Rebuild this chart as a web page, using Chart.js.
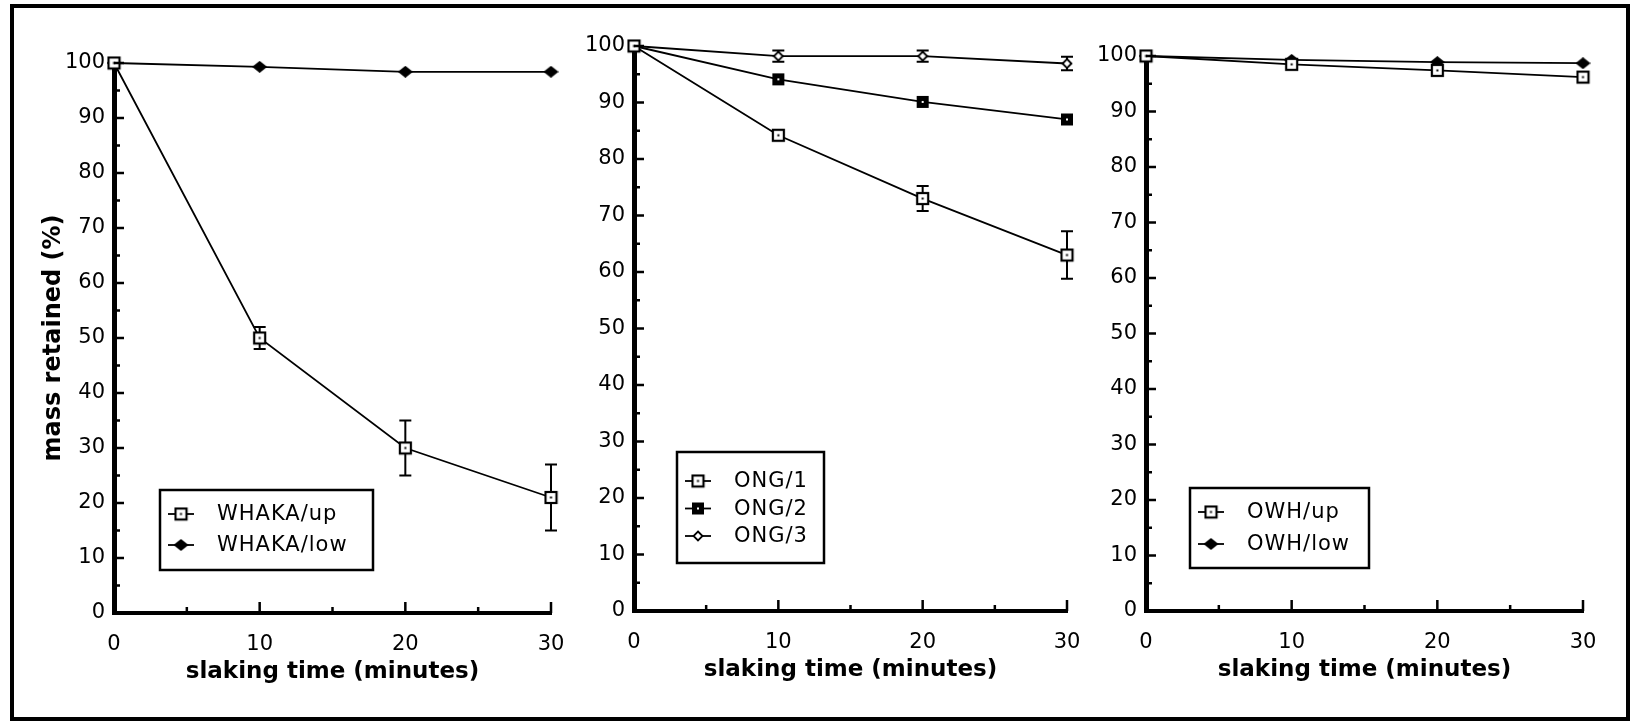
<!DOCTYPE html>
<html lang="en">
  <head>
    <meta charset="UTF-8" />
    <script src="https://cdn.jsdelivr.net/npm/chart.js"></script>
    <title>Slaking test - mass retained</title>
    <style>
      html,
      body {
        margin: 0;
        padding: 0;
        background: #fff;
      }
      #page {
        position: relative;
        width: 1632px;
        height: 725px;
        overflow: hidden;
        background: #fff;
      }
      #page canvas {
        position: absolute;
        left: 0;
        top: 0;
      }
      #frame {
        position: absolute;
        left: 10px;
        top: 4px;
        width: 1612px;
        height: 709px;
        border: 4px solid #000;
      }
    </style>
  </head>
  <body>
    <div id="page">
      <div id="frame"></div>
      <canvas id="whakaChart" width="1632" height="725"></canvas>
      <canvas id="ongChart" width="1632" height="725"></canvas>
      <canvas id="owhChart" width="1632" height="725"></canvas>
    </div>

    <script>
      // slaking time (minutes)
      const minutes = [0, 10, 20, 30];
      const xTicks = [0, 10, 20, 30];
      const yTicks = [0, 10, 20, 30, 40, 50, 60, 70, 80, 90, 100];
      const xTickMarks = [0, 5, 10, 15, 20, 25, 30];
      const yTickMarks = [0, 5, 10, 15, 20, 25, 30, 35, 40, 45, 50, 55, 60, 65, 70, 75, 80, 85, 90, 95, 100];

      // mass retained (%) and error bar half-widths
      const whakaUp = [100, 50, 30, 21];
      const whakaUpErr = [0, 2, 5, 6];
      const whakaLow = [100, 99.3, 98.4, 98.4];

      const ong1 = [100, 84.2, 73, 63];
      const ong1Err = [0, 0, 2.2, 4.2];
      const ong2 = [100, 94.1, 90.1, 87];
      const ong3 = [100, 98.2, 98.2, 96.9];
      const ong3Err = [0, 1, 1, 1.2];

      const owhUp = [100, 98.5, 97.4, 96.2];
      const owhLow = [100, 99.3, 98.9, 98.7];

      const W = 1632;
      const H = 725;
      const X_AXIS_H = 73;

      function marker(kind) {
        const c = document.createElement("canvas");
        const g = c.getContext("2d");
        if (kind === "openSquare") {
          c.width = 15;
          c.height = 15;
          g.fillStyle = "#fff";
          g.fillRect(2, 2, 11, 11);
          g.strokeStyle = "#000";
          g.lineWidth = 2.2;
          g.strokeRect(2, 2, 11, 11);
          g.fillStyle = "#000";
          g.fillRect(6.5, 6.5, 2, 2);
        } else if (kind === "filledSquare") {
          c.width = 14;
          c.height = 14;
          g.fillStyle = "#000";
          g.fillRect(1, 1, 12, 12);
          g.fillStyle = "#fff";
          g.fillRect(6, 6, 2, 2);
        } else if (kind === "filledDiamond") {
          c.width = 15;
          c.height = 12;
          g.fillStyle = "#000";
          g.beginPath();
          g.moveTo(7.5, 0);
          g.lineTo(15, 6);
          g.lineTo(7.5, 12);
          g.lineTo(0, 6);
          g.closePath();
          g.fill();
        } else {
          c.width = 12;
          c.height = 12;
          g.fillStyle = "#fff";
          g.strokeStyle = "#000";
          g.lineWidth = 1.8;
          g.beginPath();
          g.moveTo(6, 1.5);
          g.lineTo(10.5, 6);
          g.lineTo(6, 10.5);
          g.lineTo(1.5, 6);
          g.closePath();
          g.fill();
          g.stroke();
        }
        return c;
      }

      function series(label, values, style, errors) {
        return {
          label: label,
          data: minutes.map((m, i) => ({ x: m, y: values[i] })),
          errors: errors,
          borderColor: "#000",
          backgroundColor: "#000",
          borderWidth: 1.8,
          tension: 0,
          pointStyle: marker(style),
          pointRadius: 6,
          clip: false,
        };
      }

      // error bars, inward tick marks and the boxed legend
      const figureBits = {
        id: "figureBits",
        beforeDatasetsDraw(chart) {
          const ctx = chart.ctx;
          const xs = chart.scales.x;
          const ys = chart.scales.y;
          ctx.save();
          ctx.strokeStyle = "#000";
          ctx.lineWidth = 2;
          chart.data.datasets.forEach((ds) => {
            if (!ds.errors) return;
            ds.data.forEach((p, i) => {
              const e = ds.errors[i];
              if (!e) return;
              const px = xs.getPixelForValue(p.x);
              const top = ys.getPixelForValue(p.y + e);
              const bot = ys.getPixelForValue(p.y - e);
              ctx.beginPath();
              ctx.moveTo(px, top);
              ctx.lineTo(px, bot);
              ctx.moveTo(px - 6, top);
              ctx.lineTo(px + 6, top);
              ctx.moveTo(px - 6, bot);
              ctx.lineTo(px + 6, bot);
              ctx.stroke();
            });
          });
          ctx.restore();
        },
        afterDraw(chart, args, opts) {
          const ctx = chart.ctx;
          const a = chart.chartArea;
          const xs = chart.scales.x;
          const ys = chart.scales.y;
          ctx.save();
          ctx.strokeStyle = "#000";
          ctx.lineWidth = 2.5;
          ctx.beginPath();
          yTickMarks.forEach((v) => {
            const py = ys.getPixelForValue(v);
            ctx.moveTo(a.left, py);
            ctx.lineTo(a.left + (v % 10 === 0 ? 10 : 6), py);
          });
          xTickMarks.forEach((v) => {
            const px = xs.getPixelForValue(v);
            ctx.moveTo(px, a.bottom);
            ctx.lineTo(px, a.bottom - (v % 10 === 0 ? 11 : 6));
          });
          ctx.stroke();

          const b = opts.box;
          if (b) {
            const left = a.left + b.left;
            const top = a.bottom - b.bottom - b.height;
            ctx.fillStyle = "#fff";
            ctx.fillRect(left, top, b.width, b.height);
            ctx.lineWidth = 2.5;
            ctx.strokeRect(left, top, b.width, b.height);
            ctx.font = "21px 'DejaVu Sans'";
            ctx.letterSpacing = "1px";
            ctx.textBaseline = "middle";
            ctx.fillStyle = "#000";
            chart.data.datasets.forEach((ds, i) => {
              const y = top + b.firstRow + i * b.rowGap;
              ctx.lineWidth = 1.8;
              ctx.beginPath();
              ctx.moveTo(left + 8, y);
              ctx.lineTo(left + 34, y);
              ctx.stroke();
              const img = ds.pointStyle;
              ctx.drawImage(img, left + 21 - img.width / 2, y - img.height / 2);
              ctx.fillText(ds.label, left + 57, y + 1);
            });
          }
          ctx.restore();
        },
      };

      function panel(canvasId, area, datasets, box, yTitle) {
        const yAxisW = yTitle ? 75 : 60;
        return new Chart(document.getElementById(canvasId), {
          type: "line",
          data: { datasets: datasets },
          options: {
            responsive: false,
            animation: false,
            events: [],
            layout: {
              padding: {
                left: area.left - yAxisW,
                right: W - area.right,
                top: area.top,
                bottom: H - area.bottom - X_AXIS_H,
              },
            },
            scales: {
              x: {
                type: "linear",
                min: 0,
                max: 30,
                afterBuildTicks: (s) => {
                  s.ticks = xTicks.map((v) => ({ value: v }));
                },
                afterFit: (s) => {
                  s.height = X_AXIS_H;
                },
                grid: { display: false, drawTicks: false },
                border: { color: "#000", width: 4 },
                ticks: {
                  color: "#000",
                  padding: 19,
                  maxRotation: 0,
                  autoSkip: false,
                  font: { family: "DejaVu Sans", size: 21 },
                },
                title: {
                  display: true,
                  text: "slaking time (minutes)",
                  color: "#000",
                  padding: 0,
                  font: { family: "DejaVu Sans", size: 23, weight: "bold" },
                },
              },
              y: {
                min: 0,
                max: 100,
                afterBuildTicks: (s) => {
                  s.ticks = yTicks.map((v) => ({ value: v }));
                },
                afterFit: (s) => {
                  s.width = yAxisW;
                },
                grid: { display: false, drawTicks: false },
                border: { color: "#000", width: 5 },
                ticks: {
                  color: "#000",
                  padding: 9,
                  autoSkip: false,
                  font: { family: "DejaVu Sans", size: 21 },
                },
                title: {
                  display: !!yTitle,
                  text: yTitle || "",
                  color: "#000",
                  padding: { top: 0, bottom: 0 },
                  font: { family: "DejaVu Sans", size: 24, weight: "bold" },
                },
              },
            },
            plugins: {
              legend: { display: false },
              tooltip: { enabled: false },
              figureBits: { box: box },
            },
          },
          plugins: [figureBits],
        });
      }

      panel(
        "whakaChart",
        { left: 114, right: 551, top: 63, bottom: 613 },
        [
          series("WHAKA/up", whakaUp, "openSquare", whakaUpErr),
          series("WHAKA/low", whakaLow, "filledDiamond"),
        ],
        { left: 46, bottom: 43, width: 213, height: 80, firstRow: 24, rowGap: 31 },
        "mass retained (%)"
      );

      panel(
        "ongChart",
        { left: 634, right: 1067, top: 46, bottom: 611 },
        [
          series("ONG/1", ong1, "openSquare", ong1Err),
          series("ONG/2", ong2, "filledSquare"),
          series("ONG/3", ong3, "openDiamond", ong3Err),
        ],
        { left: 43, bottom: 48, width: 147, height: 111, firstRow: 29, rowGap: 27.5 }
      );

      panel(
        "owhChart",
        { left: 1146, right: 1583, top: 56, bottom: 611 },
        [
          series("OWH/up", owhUp, "openSquare"),
          series("OWH/low", owhLow, "filledDiamond"),
        ],
        { left: 44, bottom: 43, width: 179, height: 80, firstRow: 24, rowGap: 32 }
      );
    </script>
  </body>
</html>
